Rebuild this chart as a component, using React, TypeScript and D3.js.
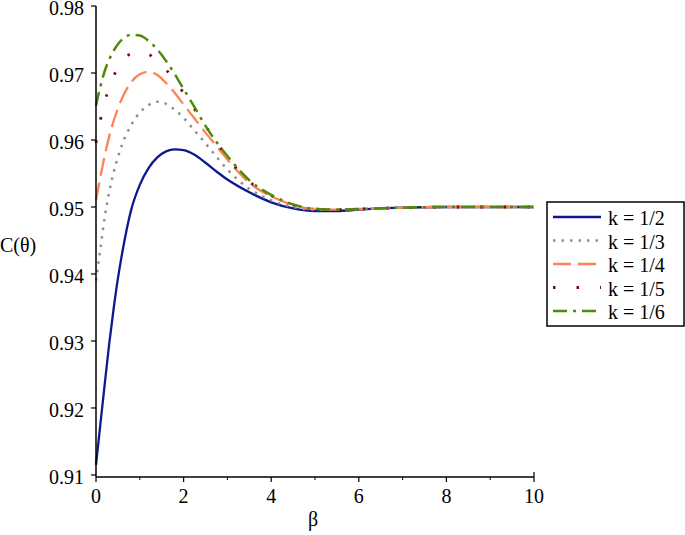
import React from "react";
import * as d3 from "d3";

// beta grid shared by all curves
const beta = [0, 0.1, 0.2, 0.3, 0.4, 0.5, 0.6, 0.8, 1.0, 1.2, 1.4, 1.6, 1.8, 2.0, 2.25, 2.5, 2.75, 3.0, 3.5, 4.0, 4.5, 5.0, 5.5, 6, 7, 8, 9, 10];

const k2 = [0.9115, 0.9176, 0.9236, 0.9295, 0.9347, 0.9393, 0.9432, 0.9495, 0.9533, 0.9558, 0.9574, 0.9583, 0.9586, 0.9585, 0.9578, 0.9566, 0.9553, 0.9541, 0.9522, 0.9507, 0.9498, 0.9494, 0.9494, 0.9496, 0.9499, 0.95, 0.95, 0.95];
const k3 = [0.939, 0.9438, 0.9485, 0.9522, 0.9551, 0.9574, 0.9594, 0.9622, 0.9641, 0.9652, 0.9657, 0.9654, 0.9645, 0.9633, 0.9614, 0.9595, 0.9575, 0.9556, 0.9527, 0.951, 0.95, 0.9496, 0.9496, 0.9497, 0.9499, 0.95, 0.95, 0.95];
const k4 = [0.951, 0.9545, 0.9577, 0.9605, 0.9628, 0.9647, 0.9663, 0.9686, 0.9698, 0.9702, 0.9697, 0.9685, 0.967, 0.9653, 0.9632, 0.9611, 0.9591, 0.9571, 0.9536, 0.9516, 0.9503, 0.9497, 0.9496, 0.9497, 0.9499, 0.95, 0.95, 0.95];
const k5 = [0.9596, 0.963, 0.9657, 0.9678, 0.9695, 0.9708, 0.9718, 0.9729, 0.9732, 0.9728, 0.9718, 0.9705, 0.9689, 0.967, 0.9646, 0.9621, 0.9597, 0.9574, 0.9538, 0.9517, 0.9503, 0.9497, 0.9496, 0.9497, 0.9499, 0.95, 0.95, 0.95];
const k6 = [0.9651, 0.968, 0.9703, 0.972, 0.9733, 0.9743, 0.975, 0.9757, 0.9756, 0.9748, 0.9735, 0.9718, 0.9698, 0.9676, 0.9649, 0.9621, 0.9597, 0.9576, 0.954, 0.9518, 0.9504, 0.9497, 0.9496, 0.9497, 0.9499, 0.95, 0.95, 0.95];

const labels = ["k = 1/2", "k = 1/3", "k = 1/4", "k = 1/5", "k = 1/6"];
const xTicks = [0, 2, 4, 6, 8, 10];
const xMinor = [1, 3, 5, 7, 9];
const yTicks = [0.91, 0.92, 0.93, 0.94, 0.95, 0.96, 0.97, 0.98];

const series = [k2, k3, k4, k5, k6];
const styles = [
  { color: "#0b1a8e", dash: null, width: 2.3 },
  { color: "#8e8e8e", dash: "2.5,6", width: 2.5 },
  { color: "#ff8255", dash: "18,7", width: 2.3 },
  { color: "#7a0a1e", dash: "2.5,21", width: 2.8 },
  { color: "#4f8a0b", dash: "14,6,3,6", width: 2.5 },
];

const FONT = '"Liberation Serif", "DejaVu Serif", serif';

export default function App() {
  const x = d3.scaleLinear().domain([0, 10]).range([96, 534]);
  const y = d3.scaleLinear().domain([0.9097, 0.98]).range([477, 6]);
  const line = d3
    .line<number>()
    .x((_, i) => x(beta[i]))
    .y((d) => y(d))
    .curve(d3.curveMonotoneX);

  const txt = { fontFamily: FONT, fontSize: 20 };

  return (
    <svg
      width={685}
      height={535}
      style={{ position: "absolute", left: 0, top: 0, background: "#fff", fontFamily: FONT }}
    >
      {series.map((s, i) => (
        <path
          key={i}
          d={line(s) || ""}
          fill="none"
          stroke={styles[i].color}
          strokeWidth={styles[i].width}
          strokeDasharray={styles[i].dash || undefined}
        />
      ))}

      {/* axes */}
      <line x1={x(0)} x2={x(0)} y1={y(0.98)} y2={y(0.9097)} stroke="#000" strokeWidth={1.5} />
      <line x1={x(0)} x2={x(10)} y1={477} y2={477} stroke="#000" strokeWidth={1.5} />
      {yTicks.map((t) => (
        <g key={t}>
          <line x1={x(0) - 5} x2={x(0)} y1={y(t)} y2={y(t)} stroke="#000" strokeWidth={1.2} />
          <text x={84} y={y(t) + 9} textAnchor="end" style={txt}>
            {d3.format(".2f")(t)}
          </text>
        </g>
      ))}
      {xTicks.map((t) => (
        <g key={t}>
          <line x1={x(t)} x2={x(t)} y1={477} y2={482} stroke="#000" strokeWidth={1.2} />
          <text x={x(t)} y={503} textAnchor="middle" style={txt}>
            {t}
          </text>
        </g>
      ))}
      {xMinor.map((t) => (
        <line key={t} x1={x(t)} x2={x(t)} y1={477} y2={480} stroke="#000" strokeWidth={1} />
      ))}
      <line x1={x(10)} x2={x(10)} y1={472} y2={477} stroke="#000" strokeWidth={1.2} />

      <text x={0} y={252} style={txt}>C(θ)</text>
      <text x={313} y={526} textAnchor="middle" style={txt}>β</text>

      {/* legend */}
      <rect x={547} y={202} width={137} height={124} fill="#fff" stroke="#000" strokeWidth={1.5} />
      {labels.map((lab, i) => {
        const base = 225 + i * 23.5;
        return (
          <g key={lab}>
            <line
              x1={553}
              x2={601}
              y1={base - 8}
              y2={base - 8}
              stroke={styles[i].color}
              strokeWidth={styles[i].width}
              strokeDasharray={styles[i].dash || undefined}
            />
            <text x={608} y={base} style={txt}>
              {lab}
            </text>
          </g>
        );
      })}
    </svg>
  );
}
